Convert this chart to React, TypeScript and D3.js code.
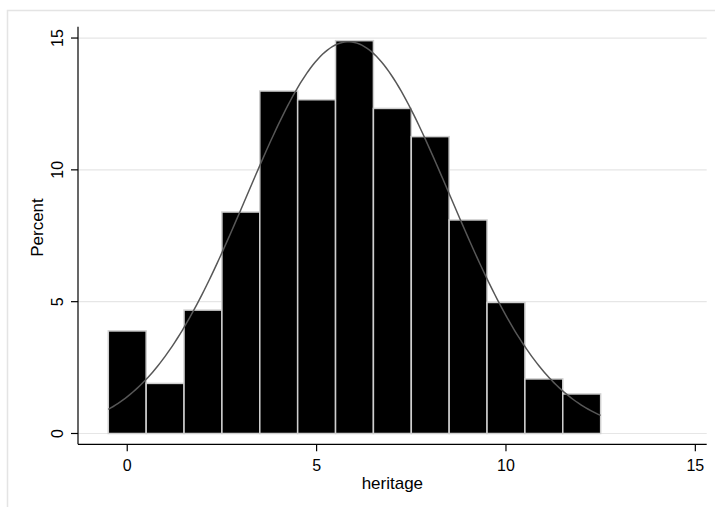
import React from "react";
import * as d3 from "d3";

// Histogram of heritage (bin width 1, centred on integers), in percent
const binCenters = [0, 1, 2, 3, 4, 5, 6, 7, 8, 9, 10, 11, 12];
const percents = [3.89, 1.9, 4.68, 8.4, 12.99, 12.66, 14.9, 12.33, 11.26, 8.1, 4.97, 2.07, 1.5];
const binWidth = 1;

// Overlaid normal density parameters
const normalMean = 5.84;
const normalSd = 2.685;

const xTicks = [0, 5, 10, 15];
const yTicks = [0, 5, 10, 15];

const W = 715;
const H = 507;
const FONT = "'Liberation Sans', Arial, Helvetica, sans-serif";

export default function App() {
  const x = d3.scaleLinear().domain([-1.3, 15.3]).range([78, 706.7]);
  const y = d3.scaleLinear().domain([-0.41, 15.43]).range([444.3, 26.7]);

  const lo = binCenters[0] - binWidth / 2;
  const hi = binCenters[binCenters.length - 1] + binWidth / 2;
  const curvePts = d3.range(0, 201).map((i) => {
    const v = lo + ((hi - lo) * i) / 200;
    const z = (v - normalMean) / normalSd;
    const dens = (100 * binWidth * Math.exp(-0.5 * z * z)) / (normalSd * Math.sqrt(2 * Math.PI));
    return [v, dens] as [number, number];
  });
  const line = d3
    .line<[number, number]>()
    .x((d) => x(d[0]))
    .y((d) => y(d[1]))
    .curve(d3.curveLinear);

  const [x0, x1] = x.range();
  const [yb, yt] = y.range();

  return (
    <svg
      width={W}
      height={H}
      style={{ position: "absolute", left: 0, top: 0, background: "#fff" }}
      fontFamily={FONT}
    >
      <rect x={7.5} y={10.5} width={W + 20} height={H + 20} fill="#fff" stroke="#e4e4e4" strokeWidth={1.5} />

      {/* horizontal grid */}
      {yTicks.map((t) => (
        <line key={"g" + t} x1={x0} x2={x1} y1={y(t)} y2={y(t)} stroke="#e6e6e6" strokeWidth={1.2} />
      ))}

      {/* bars */}
      {binCenters.map((c, i) => (
        <rect
          key={"b" + c}
          x={x(c - binWidth / 2)}
          y={y(percents[i])}
          width={x(c + binWidth / 2) - x(c - binWidth / 2)}
          height={y(0) - y(percents[i])}
          fill="#000"
          stroke="#cfcfcf"
          strokeWidth={1.5}
        />
      ))}

      {/* normal density */}
      <path d={line(curvePts) || ""} fill="none" stroke="#575757" strokeWidth={1.5} />

      {/* axes */}
      <line x1={x0} x2={x0} y1={yt} y2={yb} stroke="#000" strokeWidth={1.2} />
      <line x1={x0} x2={x1} y1={yb} y2={yb} stroke="#000" strokeWidth={1.2} />

      {yTicks.map((t) => (
        <g key={"yt" + t}>
          <line x1={x0 - 7} x2={x0} y1={y(t)} y2={y(t)} stroke="#000" strokeWidth={1.2} />
          <text
            transform={`translate(${63},${y(t)}) rotate(-90)`}
            textAnchor="middle"
            fontSize={16}
            fill="#000"
          >
            {t}
          </text>
        </g>
      ))}

      {xTicks.map((t) => (
        <g key={"xt" + t}>
          <line x1={x(t)} x2={x(t)} y1={yb} y2={yb + 7} stroke="#000" strokeWidth={1.2} />
          <text x={x(t)} y={471} textAnchor="middle" fontSize={16} fill="#000">
            {t}
          </text>
        </g>
      ))}

      <text x={(x0 + x1) / 2} y={488.5} textAnchor="middle" fontSize={17} fill="#000">
        heritage
      </text>
      <text
        transform={`translate(${42.5},${227.5}) rotate(-90)`}
        textAnchor="middle"
        fontSize={17}
        fill="#000"
      >
        Percent
      </text>
    </svg>
  );
}
